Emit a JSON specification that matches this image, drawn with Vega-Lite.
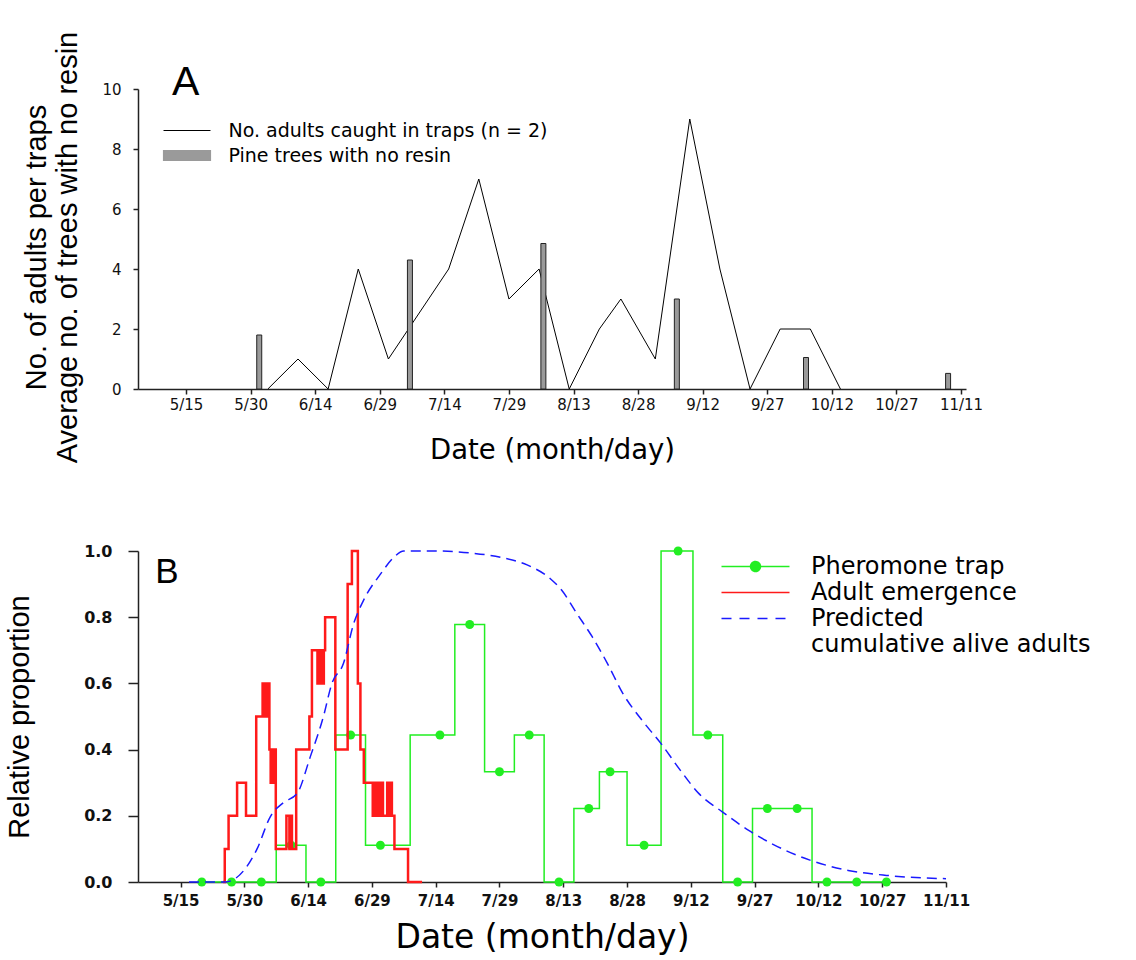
{
  "$schema": "https://vega.github.io/schema/vega-lite/v6.json",
  "background": "white",
  "padding": {"left": 5, "top": 31, "right": 5, "bottom": 3},
  "columns": 1,
  "align": "none",
  "spacing": 79,
  "resolve": {"scale": {"color": "independent", "x": "independent", "y": "independent"}, "legend": {"color": "independent"}},
  "config": {
    "view": {"stroke": null},
    "axis": {"grid": false, "domainColor": "#222", "domainWidth": 1.5, "tickColor": "#222", "tickWidth": 1.5, "labelColor": "#111", "titleColor": "#000", "titleFontWeight": "normal", "labelOverlap": false}
  },
  "concat": [
    {
      "width": 828,
      "height": 300,
      "layer": [
        {
          "data": {"values": [
            {"date": "2011-06-03", "value": 0}, {"date": "2011-06-10", "value": 1}, {"date": "2011-06-17", "value": 0},
            {"date": "2011-06-24", "value": 4}, {"date": "2011-07-01", "value": 1}, {"date": "2011-07-15", "value": 4},
            {"date": "2011-07-22", "value": 7}, {"date": "2011-07-29", "value": 3}, {"date": "2011-08-05", "value": 4},
            {"date": "2011-08-12", "value": 0}, {"date": "2011-08-19", "value": 2}, {"date": "2011-08-24", "value": 3},
            {"date": "2011-09-01", "value": 1}, {"date": "2011-09-09", "value": 9}, {"date": "2011-09-16", "value": 4},
            {"date": "2011-09-23", "value": 0}, {"date": "2011-09-30", "value": 2}, {"date": "2011-10-07", "value": 2},
            {"date": "2011-10-14", "value": 0}
          ]},
          "mark": {"type": "line", "strokeWidth": 1},
          "encoding": {
            "x": {"field": "date", "type": "temporal",
              "scale": {"type": "utc", "domain": [{"year": 2011, "month": 5, "date": 5, "utc": true}, {"year": 2011, "month": 11, "date": 11, "utc": true}]},
              "axis": {"values": [
                {"year": 2011, "month": 5, "date": 15, "utc": true}, {"year": 2011, "month": 5, "date": 30, "utc": true},
                {"year": 2011, "month": 6, "date": 14, "utc": true}, {"year": 2011, "month": 6, "date": 29, "utc": true},
                {"year": 2011, "month": 7, "date": 14, "utc": true}, {"year": 2011, "month": 7, "date": 29, "utc": true},
                {"year": 2011, "month": 8, "date": 13, "utc": true}, {"year": 2011, "month": 8, "date": 28, "utc": true},
                {"year": 2011, "month": 9, "date": 12, "utc": true}, {"year": 2011, "month": 9, "date": 27, "utc": true},
                {"year": 2011, "month": 10, "date": 12, "utc": true}, {"year": 2011, "month": 10, "date": 27, "utc": true},
                {"year": 2011, "month": 11, "date": 11, "utc": true}],
                "format": "%-m/%-d", "labelFlush": false, "title": "Date (month/day)",
                "titleFont": "DejaVu Sans", "titleFontSize": 27.5, "titlePadding": 24,
                "labelFont": "DejaVu Sans", "labelFontSize": 15, "labelPadding": 3, "tickSize": 5}},
            "y": {"field": "value", "type": "quantitative",
              "scale": {"domain": [0, 10], "nice": false},
              "axis": {"values": [0, 2, 4, 6, 8, 10], "title": ["No. of adults per traps", "Average no. of trees with no resin"],
                "titleFont": "Liberation Sans", "titleFontSize": 29, "titleLineHeight": 31, "titlePadding": 19, "titleY": 158,
                "labelFont": "DejaVu Sans", "labelFontSize": 15, "labelPadding": 12, "tickSize": 5}},
            "color": {"datum": "No. adults caught in traps (n = 2)", "type": "nominal",
              "scale": {"domain": ["No. adults caught in traps (n = 2)", "Pine trees with no resin"], "range": ["#000000", "#9a9a9a"]},
              "legend": {"title": null, "orient": "none", "legendX": 39.5, "legendY": 32, "direction": "vertical",
                "labelFont": "DejaVu Sans", "labelFontSize": 19, "labelColor": "#000", "labelLimit": 500, "symbolSize": 245, "labelOffset": 32, "rowPadding": 5, "padding": 0,
                "encode": {"symbols": {"update": {
                  "shape": [{"test": "datum.value === 'Pine trees with no resin'", "value": "M-3,-0.64H3V0.64H-3Z"}, {"value": "M-3,0H3"}],
                  "fill": [{"test": "datum.value === 'Pine trees with no resin'", "value": "#a8a8a8"}, {"value": "transparent"}],
                  "stroke": [{"test": "datum.value === 'Pine trees with no resin'", "value": "#222"}, {"value": "#000"}],
                  "strokeWidth": {"value": 1.2},
                  "opacity": {"value": 1}
                }}}}}
          }
        },
        {
          "data": {"values": [
            {"date": "2011-06-01", "value": 1.8},
            {"date": "2011-07-06", "value": 4.3},
            {"date": "2011-08-06", "value": 4.85},
            {"date": "2011-09-06", "value": 3.0},
            {"date": "2011-10-06", "value": 1.05},
            {"date": "2011-11-08", "value": 0.52}
          ]},
          "mark": {"type": "bar", "size": 5, "stroke": "#222", "strokeWidth": 1},
          "encoding": {
            "x": {"field": "date", "type": "temporal"},
            "y": {"field": "value", "type": "quantitative"},
            "color": {"datum": "Pine trees with no resin", "type": "nominal"}
          }
        },
        {
          "data": {"values": [{"label": "A"}]},
          "mark": {"type": "text", "align": "left", "baseline": "alphabetic", "font": "Liberation Sans", "fontSize": 41, "color": "#000"},
          "encoding": {
            "x": {"datum": {"year": 2011, "month": 5, "date": 11, "hours": 17, "utc": true}, "type": "temporal"},
            "y": {"datum": 9.79, "type": "quantitative"},
            "text": {"field": "label"}
          }
        }
      ]
    },
    {
      "width": 808,
      "height": 331,
      "layer": [
        {
          "data": {"values": [
            {"date": "2011-05-20", "value": 0}, {"date": "2011-05-27", "value": 0}, {"date": "2011-06-03", "value": 0},
            {"date": "2011-06-10", "value": 0.111}, {"date": "2011-06-17", "value": 0}, {"date": "2011-06-24", "value": 0.444},
            {"date": "2011-07-01", "value": 0.111}, {"date": "2011-07-15", "value": 0.444}, {"date": "2011-07-22", "value": 0.778},
            {"date": "2011-07-29", "value": 0.333}, {"date": "2011-08-05", "value": 0.444}, {"date": "2011-08-12", "value": 0},
            {"date": "2011-08-19", "value": 0.222}, {"date": "2011-08-24", "value": 0.333}, {"date": "2011-09-01", "value": 0.111},
            {"date": "2011-09-09", "value": 1.0}, {"date": "2011-09-16", "value": 0.444}, {"date": "2011-09-23", "value": 0},
            {"date": "2011-09-30", "value": 0.222}, {"date": "2011-10-07", "value": 0.222}, {"date": "2011-10-14", "value": 0},
            {"date": "2011-10-21", "value": 0}, {"date": "2011-10-28", "value": 0}
          ]},
          "layer": [
            {
              "mark": {"type": "line", "interpolate": "step", "strokeWidth": 1.5},
              "encoding": {
                "x": {"field": "date", "type": "temporal",
                  "scale": {"type": "utc", "domain": [{"year": 2011, "month": 5, "date": 5, "utc": true}, {"year": 2011, "month": 11, "date": 11, "utc": true}]},
                  "axis": {"values": [
                    {"year": 2011, "month": 5, "date": 15, "utc": true}, {"year": 2011, "month": 5, "date": 30, "utc": true},
                    {"year": 2011, "month": 6, "date": 14, "utc": true}, {"year": 2011, "month": 6, "date": 29, "utc": true},
                    {"year": 2011, "month": 7, "date": 14, "utc": true}, {"year": 2011, "month": 7, "date": 29, "utc": true},
                    {"year": 2011, "month": 8, "date": 13, "utc": true}, {"year": 2011, "month": 8, "date": 28, "utc": true},
                    {"year": 2011, "month": 9, "date": 12, "utc": true}, {"year": 2011, "month": 9, "date": 27, "utc": true},
                    {"year": 2011, "month": 10, "date": 12, "utc": true}, {"year": 2011, "month": 10, "date": 27, "utc": true},
                    {"year": 2011, "month": 11, "date": 11, "utc": true}],
                    "format": "%-m/%-d", "labelFlush": false, "title": "Date (month/day)",
                    "titleFont": "DejaVu Sans", "titleFontSize": 33, "titlePadding": 13,
                    "labelFont": "DejaVu Sans", "labelFontSize": 15, "labelFontWeight": "bold", "labelPadding": 6, "tickSize": 5}},
                "y": {"field": "value", "type": "quantitative",
                  "scale": {"domain": [0, 1], "nice": false},
                  "axis": {"values": [0, 0.2, 0.4, 0.6, 0.8, 1.0], "format": ".1f", "title": "Relative proportion",
                    "titleFont": "Liberation Sans", "titleFontSize": 29, "titlePadding": 49,
                    "labelFont": "DejaVu Sans", "labelFontSize": 16, "labelFontWeight": "bold", "labelPadding": 16, "tickSize": 10}},
                "color": {"datum": "Pheromone trap", "type": "nominal",
                  "scale": {"domain": ["Pheromone trap", "Adult emergence", "Predicted cumulative alive adults"], "range": ["#22ee22", "#ff1a1a", "#1a1aff"]},
                  "legend": {"title": null, "orient": "none", "legendX": 605, "legendY": 3, "direction": "vertical",
                    "labelFont": "DejaVu Sans", "labelFontSize": 24, "labelColor": "#000", "labelLimit": 500, "symbolSize": 514, "labelOffset": 43, "rowPadding": 1, "padding": 0,
                    "labelExpr": "datum.label === 'Predicted cumulative alive adults' ? ['Predicted', 'cumulative alive adults'] : datum.label",
                    "encode": {"symbols": {"update": {
                      "shape": [{"test": "datum.value === 'Pheromone trap'", "value": "M-3,0H3M0.44,0A0.44,0.44,0,1,1,-0.44,0A0.44,0.44,0,1,1,0.44,0"}, {"value": "M-3,0H3"}],
                      "fill": [{"test": "datum.value === 'Pheromone trap'", "value": "#22ee22"}, {"value": "transparent"}],
                      "stroke": [{"test": "datum.value === 'Pheromone trap'", "value": "#22ee22"}, {"test": "datum.value === 'Adult emergence'", "value": "#ff1a1a"}, {"value": "#1a1aff"}],
                      "strokeDash": [{"test": "datum.value === 'Predicted cumulative alive adults'", "value": [10, 8]}, {"value": [1, 0]}],
                      "strokeWidth": {"value": 1.5},
                      "opacity": {"value": 1}
                    }}}}}
              }
            },
            {
              "mark": {"type": "point", "filled": true, "size": 80, "opacity": 1},
              "encoding": {
                "x": {"field": "date", "type": "temporal"},
                "y": {"field": "value", "type": "quantitative"},
                "color": {"datum": "Pheromone trap", "type": "nominal"}
              }
            }
          ]
        },
        {
          "data": {"values": [
            {"date": "2011-05-25T00:00:00Z", "value": 0}, {"date": "2011-05-25T09:36:00Z", "value": 0.1},
            {"date": "2011-05-26T07:12:00Z", "value": 0.2}, {"date": "2011-05-28T07:12:00Z", "value": 0.3},
            {"date": "2011-05-30T09:36:00Z", "value": 0.2}, {"date": "2011-06-01T19:12:00Z", "value": 0.5},
            {"date": "2011-06-03T07:12:00Z", "value": 0.6}, {"date": "2011-06-03T14:24:00Z", "value": 0.5},
            {"date": "2011-06-03T21:36:00Z", "value": 0.6}, {"date": "2011-06-04T04:48:00Z", "value": 0.5},
            {"date": "2011-06-04T12:00:00Z", "value": 0.6}, {"date": "2011-06-04T21:36:00Z", "value": 0.4},
            {"date": "2011-06-05T04:48:00Z", "value": 0.3}, {"date": "2011-06-05T12:00:00Z", "value": 0.4},
            {"date": "2011-06-05T19:12:00Z", "value": 0.3}, {"date": "2011-06-06T02:24:00Z", "value": 0.4},
            {"date": "2011-06-06T09:36:00Z", "value": 0.1}, {"date": "2011-06-08T21:36:00Z", "value": 0.2},
            {"date": "2011-06-09T14:24:00Z", "value": 0.1}, {"date": "2011-06-09T21:36:00Z", "value": 0.2},
            {"date": "2011-06-10T04:48:00Z", "value": 0.1}, {"date": "2011-06-11T04:48:00Z", "value": 0.4},
            {"date": "2011-06-14T07:12:00Z", "value": 0.5}, {"date": "2011-06-14T21:36:00Z", "value": 0.7},
            {"date": "2011-06-16T04:48:00Z", "value": 0.6}, {"date": "2011-06-16T12:00:00Z", "value": 0.7},
            {"date": "2011-06-16T19:12:00Z", "value": 0.6}, {"date": "2011-06-17T02:24:00Z", "value": 0.7},
            {"date": "2011-06-17T09:36:00Z", "value": 0.6}, {"date": "2011-06-17T16:48:00Z", "value": 0.7},
            {"date": "2011-06-18T00:00:00Z", "value": 0.8}, {"date": "2011-06-20T09:36:00Z", "value": 0.4},
            {"date": "2011-06-23T07:12:00Z", "value": 0.9}, {"date": "2011-06-24T07:12:00Z", "value": 1.0},
            {"date": "2011-06-25T16:48:00Z", "value": 0.6}, {"date": "2011-06-26T07:12:00Z", "value": 0.4},
            {"date": "2011-06-27T02:24:00Z", "value": 0.3}, {"date": "2011-06-29T04:48:00Z", "value": 0.2},
            {"date": "2011-06-29T14:24:00Z", "value": 0.3}, {"date": "2011-06-30T00:00:00Z", "value": 0.2},
            {"date": "2011-06-30T09:36:00Z", "value": 0.3}, {"date": "2011-06-30T19:12:00Z", "value": 0.2},
            {"date": "2011-07-01T04:48:00Z", "value": 0.3}, {"date": "2011-07-01T14:24:00Z", "value": 0.2},
            {"date": "2011-07-02T14:24:00Z", "value": 0.3}, {"date": "2011-07-03T00:00:00Z", "value": 0.2},
            {"date": "2011-07-03T07:12:00Z", "value": 0.3}, {"date": "2011-07-03T16:48:00Z", "value": 0.2},
            {"date": "2011-07-04T07:12:00Z", "value": 0.1}, {"date": "2011-07-07T12:00:00Z", "value": 0},
            {"date": "2011-07-10T19:12:00Z", "value": 0}
          ]},
          "mark": {"type": "line", "interpolate": "step-after", "strokeWidth": 2.5},
          "encoding": {
            "x": {"field": "date", "type": "temporal"},
            "y": {"field": "value", "type": "quantitative"},
            "color": {"datum": "Adult emergence", "type": "nominal"}
          }
        },
        {
          "data": {"values": [
            {"date": "2011-05-17T00:00:00Z", "value": 0}, {"date": "2011-05-25T12:00:00Z", "value": 0},
            {"date": "2011-06-02T00:00:00Z", "value": 0.1}, {"date": "2011-06-05T02:24:00Z", "value": 0.197},
            {"date": "2011-06-08T04:48:00Z", "value": 0.24}, {"date": "2011-06-11T09:36:00Z", "value": 0.267},
            {"date": "2011-06-14T12:00:00Z", "value": 0.378}, {"date": "2011-06-17T14:24:00Z", "value": 0.5},
            {"date": "2011-06-19T14:24:00Z", "value": 0.6}, {"date": "2011-06-22T07:12:00Z", "value": 0.66},
            {"date": "2011-06-24T16:48:00Z", "value": 0.78}, {"date": "2011-06-27T00:00:00Z", "value": 0.85},
            {"date": "2011-07-01T00:00:00Z", "value": 0.93}, {"date": "2011-07-04T02:24:00Z", "value": 0.98},
            {"date": "2011-07-06T12:00:00Z", "value": 1.0}, {"date": "2011-07-14T00:00:00Z", "value": 1.0},
            {"date": "2011-07-23T00:00:00Z", "value": 0.993}, {"date": "2011-07-29T04:48:00Z", "value": 0.981},
            {"date": "2011-08-04T12:00:00Z", "value": 0.958}, {"date": "2011-08-09T21:36:00Z", "value": 0.917},
            {"date": "2011-08-12T14:24:00Z", "value": 0.882}, {"date": "2011-08-16T04:48:00Z", "value": 0.811},
            {"date": "2011-08-19T19:12:00Z", "value": 0.741}, {"date": "2011-08-23T09:36:00Z", "value": 0.66},
            {"date": "2011-08-27T00:00:00Z", "value": 0.57}, {"date": "2011-08-31T12:00:00Z", "value": 0.489},
            {"date": "2011-09-05T00:00:00Z", "value": 0.418}, {"date": "2011-09-09T12:00:00Z", "value": 0.338},
            {"date": "2011-09-13T21:36:00Z", "value": 0.267}, {"date": "2011-09-19T09:36:00Z", "value": 0.212},
            {"date": "2011-09-25T14:24:00Z", "value": 0.156}, {"date": "2011-10-01T00:00:00Z", "value": 0.116},
            {"date": "2011-10-10T00:00:00Z", "value": 0.066}, {"date": "2011-10-19T00:00:00Z", "value": 0.035},
            {"date": "2011-10-28T00:00:00Z", "value": 0.02}, {"date": "2011-11-11T00:00:00Z", "value": 0.01}
          ]},
          "mark": {"type": "line", "interpolate": "monotone", "strokeWidth": 1.5, "strokeDash": [10, 6]},
          "encoding": {
            "x": {"field": "date", "type": "temporal"},
            "y": {"field": "value", "type": "quantitative"},
            "color": {"datum": "Predicted cumulative alive adults", "type": "nominal"}
          }
        },
        {
          "data": {"values": [{"label": "B"}]},
          "mark": {"type": "text", "align": "left", "baseline": "alphabetic", "font": "Liberation Sans", "fontSize": 35, "color": "#000"},
          "encoding": {
            "x": {"datum": {"year": 2011, "month": 5, "date": 9, "hours": 2, "utc": true}, "type": "temporal"},
            "y": {"datum": 0.902, "type": "quantitative"},
            "text": {"field": "label"}
          }
        }
      ]
    }
  ]
}
